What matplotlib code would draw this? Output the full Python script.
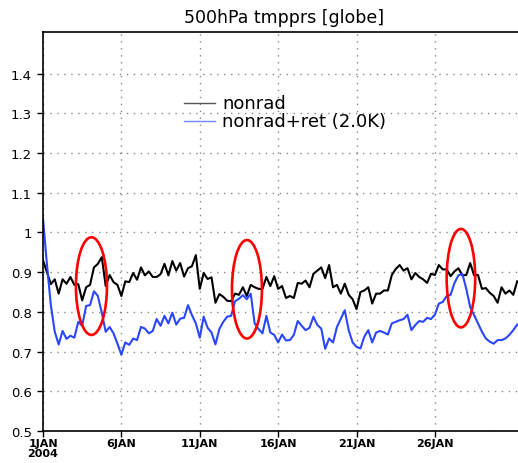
import numpy as np
import matplotlib
matplotlib.use("Agg")
import matplotlib.pyplot as plt
from matplotlib.patches import Ellipse
from matplotlib.lines import Line2D

# 6-hourly global mean values, starting 1 JAN 2004 00Z
nonrad = [0.93, 0.90, 0.87, 0.882, 0.846, 0.882, 0.871, 0.888, 0.868, 0.87,
          0.829, 0.862, 0.868, 0.912, 0.921, 0.938, 0.865, 0.893, 0.875, 0.868,
          0.84, 0.877, 0.875, 0.898, 0.881, 0.912, 0.892, 0.902, 0.888, 0.888,
          0.895, 0.921, 0.892, 0.928, 0.904, 0.923, 0.889, 0.91, 0.915, 0.943,
          0.858, 0.898, 0.883, 0.887, 0.823, 0.845, 0.838, 0.828, 0.827, 0.846,
          0.843, 0.862, 0.84, 0.868, 0.862, 0.858, 0.858, 0.888, 0.865, 0.89,
          0.858, 0.865, 0.835, 0.84, 0.835, 0.873, 0.871, 0.879, 0.862, 0.896,
          0.904, 0.912, 0.885, 0.918, 0.862, 0.868, 0.846, 0.871, 0.843, 0.832,
          0.807, 0.85, 0.854, 0.862, 0.821, 0.846, 0.846, 0.854, 0.854, 0.893,
          0.908, 0.918, 0.904, 0.91, 0.882, 0.898, 0.888, 0.882, 0.873, 0.896,
          0.893, 0.918, 0.907, 0.907, 0.89, 0.902, 0.91, 0.892, 0.893, 0.923,
          0.892, 0.893, 0.858, 0.86, 0.848, 0.84, 0.823, 0.862, 0.846, 0.854,
          0.843, 0.877]

nonrad_ret = [1.035, 0.92, 0.817, 0.75, 0.718, 0.752, 0.732, 0.74, 0.735, 0.775,
              0.765, 0.815, 0.817, 0.852, 0.84, 0.798, 0.75, 0.762, 0.746, 0.72,
              0.692, 0.723, 0.717, 0.733, 0.729, 0.762, 0.758, 0.746, 0.752, 0.782,
              0.765, 0.79, 0.771, 0.798, 0.768, 0.783, 0.785, 0.817, 0.792, 0.771,
              0.735, 0.788, 0.76, 0.748, 0.718, 0.757, 0.775, 0.788, 0.79, 0.827,
              0.833, 0.842, 0.832, 0.846, 0.771, 0.757, 0.746, 0.79, 0.748, 0.742,
              0.723, 0.743, 0.728, 0.729, 0.742, 0.777, 0.765, 0.754, 0.76, 0.788,
              0.767, 0.758, 0.707, 0.733, 0.723, 0.762, 0.783, 0.804, 0.754, 0.723,
              0.712, 0.708, 0.738, 0.754, 0.723, 0.748, 0.752, 0.748, 0.743, 0.771,
              0.775, 0.779, 0.782, 0.793, 0.754, 0.767, 0.777, 0.775, 0.785, 0.782,
              0.793, 0.821, 0.825, 0.84, 0.843, 0.873, 0.892, 0.896, 0.858, 0.812,
              0.792, 0.771, 0.75, 0.733, 0.725, 0.72, 0.729, 0.729, 0.733, 0.742,
              0.754, 0.768]

tick_days = [0, 5, 10, 15, 20, 25]
tick_labels = ["1JAN\n2004", "6JAN", "11JAN", "16JAN", "21JAN", "26JAN"]
y_ticks = [0.5, 0.6, 0.7, 0.8, 0.9, 1.0, 1.1, 1.2, 1.3, 1.4]
y_labels = ["0.5", "0.6", "0.7", "0.8", "0.9", "1", "1.1", "1.2", "1.3", "1.4"]

# highlighted events (day, value, width in days, height)
circle_day = [3.09, 13.01, 26.66]
circle_val = [0.865, 0.857, 0.885]
circle_w = [1.98, 1.91, 1.82]
circle_h = [0.246, 0.248, 0.248]

days = np.arange(len(nonrad)) * 6 / 24.0

fig = plt.figure(figsize=(5.18, 4.64), dpi=100)
ax = fig.add_axes([43 / 518, 32 / 464, 475 / 518, 399 / 464])

ax.plot(days, nonrad, color="black", lw=1.5)
ax.plot(days, nonrad_ret, color="#2a46ff", lw=1.5)

for d, v, w, h in zip(circle_day, circle_val, circle_w, circle_h):
    ax.add_patch(Ellipse((d, v), w, h, fill=False, edgecolor="#ff0000", lw=1.9, zorder=5))

ax.set_xlim(0, 30.3)
ax.set_ylim(0.5, 1.505)
ax.set_xticks(tick_days)
ax.set_xticklabels(tick_labels, fontsize=8, fontweight="bold", linespacing=0.95)
ax.set_yticks(y_ticks)
ax.set_yticklabels(y_labels, fontsize=9.5)
ax.tick_params(axis="x", direction="out", length=4, width=1, pad=1)
ax.tick_params(axis="y", direction="out", length=4, width=1, pad=4)
ax.grid(True, color="#888888", lw=1, linestyle=(0, (1, 4)))

for side in ["left", "top", "bottom"]:
    ax.spines[side].set_linewidth(1.2)
ax.spines["right"].set_visible(False)

# legend drawn by hand in axes fraction
ax.add_line(Line2D([0.297, 0.362], [0.822, 0.822], transform=ax.transAxes, color="#555555", lw=1))
ax.add_line(Line2D([0.297, 0.362], [0.777, 0.777], transform=ax.transAxes, color="#6f88ff", lw=1))
ax.text(0.377, 0.822, "nonrad", transform=ax.transAxes, fontsize=13, va="center", ha="left")
ax.text(0.377, 0.777, "nonrad+ret (2.0K)", transform=ax.transAxes, fontsize=13, va="center", ha="left")

fig.text(284 / 518, 1 - 18 / 464, "500hPa tmpprs [globe]", fontsize=12.5, ha="center", va="center")

fig.savefig("out.png", dpi=100)
